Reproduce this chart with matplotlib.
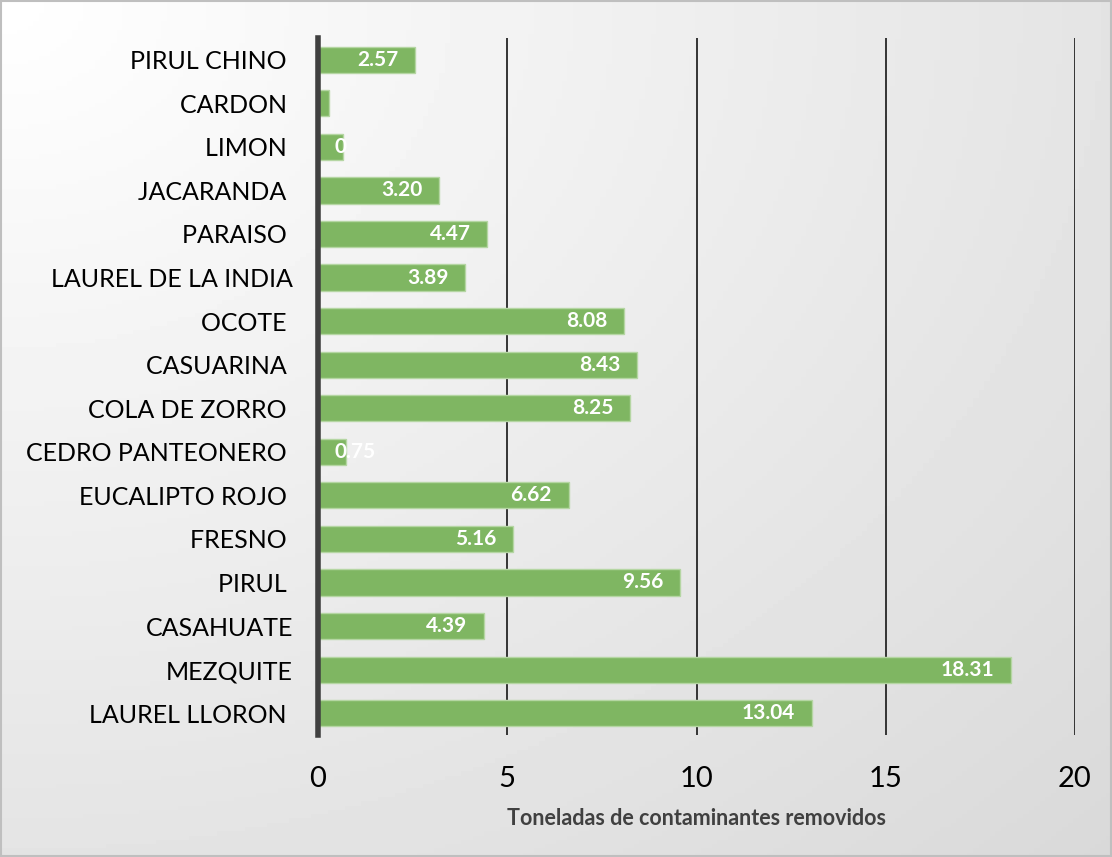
import numpy as np
import matplotlib.pyplot as plt

# categorías (de abajo hacia arriba, como en el gráfico)
especies = ["LAUREL LLORON ", "MEZQUITE", "CASAHUATE", "PIRUL ", "FRESNO ",
            "EUCALIPTO ROJO ", "CEDRO PANTEONERO ", "COLA DE ZORRO ",
            "CASUARINA ", "OCOTE ", "LAUREL DE LA INDIA", "PARAISO ",
            "JACARANDA ", "LIMON ", "CARDON ", "PIRUL CHINO "]
toneladas = [13.04, 18.31, 4.39, 9.56, 5.16, 6.62, 0.75, 8.25,
             8.43, 8.08, 3.89, 4.47, 3.20, 0.66, 0.28, 2.57]
etiquetas = ["13.04", "18.31", "4.39", "9.56", "5.16", "6.62", "0.75", "8.25",
             "8.43", "8.08", "3.89", "4.47", "3.20", "0", "", "2.57"]

plt.rcParams['font.family'] = ['Lato', 'DejaVu Sans']

fig = plt.figure(figsize=(11.12, 8.57), dpi=100)

# fondo con degradado
bg = fig.add_axes([0, 0, 1, 1], zorder=-10)
yy, xx = np.mgrid[0:1:200j, 0:1:200j]
r = np.sqrt(xx**2 + yy**2) / np.sqrt(2)
bg.imshow(1 - 0.15 * r, cmap='gray', vmin=0, vmax=1, extent=[0, 1, 0, 1],
          aspect='auto', origin='upper')
bg.add_patch(plt.Rectangle((0.001, 0.001), 0.998, 0.998, fill=False,
                           edgecolor='#bfbfbf', lw=1.5))
bg.set_xlim(0, 1)
bg.set_ylim(0, 1)
bg.axis('off')

ax = fig.add_axes([0.286, 0.1424, 0.6807, 0.8133])
ax.patch.set_alpha(0)
y = np.arange(len(especies))
bars = ax.barh(y, toneladas, height=0.6, color='#7fb662', edgecolor='#b5d6a3',
               linewidth=1, zorder=3)

ax.set_xlim(0, 20)
ax.set_ylim(-0.5, len(especies) - 0.5)
ax.set_xticks(np.arange(0, 21, 5))
ax.xaxis.grid(True, color='#262626', lw=1.3, zorder=0)
ax.set_yticks(y)
ax.set_yticklabels(especies, fontsize=18)
ax.tick_params(axis='y', length=0, pad=18)
ax.tick_params(axis='x', length=0, pad=22, labelsize=21)
for s in ['top', 'right', 'bottom']:
    ax.spines[s].set_visible(False)
ax.spines['left'].set_color('#404040')
ax.spines['left'].set_linewidth(4)
ax.spines['left'].set_zorder(4)

for b, txt in zip(bars, etiquetas):
    if not txt:
        continue
    w = b.get_width()
    yc = b.get_y() + b.get_height() / 2
    if w < 1.5:
        # barras muy cortas: la etiqueta empieza dentro de la barra
        ax.annotate(txt, xy=(0, yc), xytext=(12, 0), textcoords='offset points',
                    ha='left', va='center', color='white', fontweight='bold',
                    fontsize=15, zorder=5)
    else:
        ax.annotate(txt, xy=(w, yc), xytext=(-12, 0), textcoords='offset points',
                    ha='right', va='center', color='white', fontweight='bold',
                    fontsize=15, zorder=5)

ax.set_xlabel("Toneladas de contaminantes removidos", fontsize=15.5,
              fontweight='bold', color='#404040', labelpad=12)

fig.savefig("out.png", dpi=100)
